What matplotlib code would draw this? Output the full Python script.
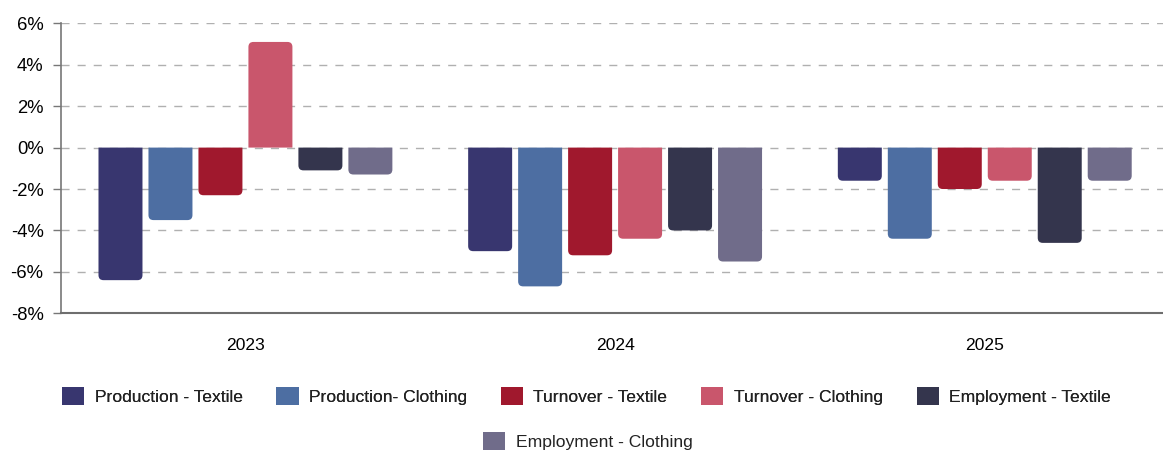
import numpy as np
import matplotlib
matplotlib.use("Agg")
import matplotlib.pyplot as plt
from matplotlib.patches import PathPatch, Patch
from matplotlib.path import Path

plt.rcParams['font.family'] = ['Liberation Sans', 'DejaVu Sans']
plt.rcParams['text.color'] = '#222222'

# data
years = ['2023', '2024', '2025']
series_names = ['Production - Textile', 'Production- Clothing', 'Turnover - Textile',
                'Turnover - Clothing', 'Employment - Textile', 'Employment - Clothing']
prod_textile = [-6.4, -5.0, -1.6]
prod_clothing = [-3.5, -6.7, -4.4]
turn_textile = [-2.3, -5.2, -2.0]
turn_clothing = [5.1, -4.4, -1.6]
empl_textile = [-1.1, -4.0, -4.6]
empl_clothing = [-1.3, -5.5, -1.6]
yticks = [-8, -6, -4, -2, 0, 2, 4, 6]

series = [prod_textile, prod_clothing, turn_textile, turn_clothing, empl_textile, empl_clothing]
colors = ['#38366f', '#4d6ea2', '#a0182d', '#c9566c', '#34354d', '#706c8a']

W, H = 1163, 450
fig = plt.figure(figsize=(W / 100, H / 100), dpi=100)
ax = fig.add_axes([60.6 / W, 1 - 313.3 / H, 1109 / W, 290 / H])

x = np.arange(len(years))
step = 0.1352
width = 0.119

ax.set_xlim(-0.5, 2.5)
ax.set_ylim(-8, 6)

# corner radius of about 5 px, in data units
rx = 5 / 369.75
ry = 5 * 14 / 290


def rounded_bar(bx, base, bw, top):
    # rectangle from base (zero) to top, rounded only at the far end
    r = ry if top > base else -ry
    verts = [(bx, base), (bx, top - r), (bx, top), (bx + rx, top),
             (bx + bw - rx, top), (bx + bw, top), (bx + bw, top - r),
             (bx + bw, base), (bx, base)]
    codes = [Path.MOVETO, Path.LINETO, Path.CURVE3, Path.CURVE3,
             Path.LINETO, Path.CURVE3, Path.CURVE3, Path.LINETO, Path.CLOSEPOLY]
    return Path(verts, codes)


for i, (vals, c) in enumerate(zip(series, colors)):
    bars = ax.bar(x + (i - 2.5) * step, vals, width, color=c, zorder=2)
    for b in bars:
        b.set_visible(False)
        p = rounded_bar(b.get_x(), b.get_y(), b.get_width(), b.get_y() + b.get_height())
        ax.add_patch(PathPatch(p, fc=c, ec='none', zorder=2))

ax.set_yticks(yticks)
ax.set_yticklabels([f"{v}%" for v in yticks], fontsize=13.3)
ax.set_xticks(x)
ax.set_xticklabels(years, fontsize=12.6)
ax.tick_params(axis='x', length=0, pad=18)
ax.tick_params(axis='y', length=5.8, width=1, color='#777777', pad=6.5)

ax.grid(axis='y', color='#b0b0b0', linestyle=(0, (5.8, 5.8)), linewidth=1, zorder=0)
ax.set_axisbelow(True)

for s in ['top', 'right']:
    ax.spines[s].set_visible(False)
ax.spines['left'].set_color('#777777')
ax.spines['left'].set_linewidth(1.2)
ax.spines['bottom'].set_color('#6e6e6e')
ax.spines['bottom'].set_linewidth(1.5)

handles = [Patch(facecolor=c, edgecolor='none', label=n) for c, n in zip(colors, series_names)]
leg_kw = dict(loc='center', frameon=False, fontsize=12.6, handlelength=1.26,
              handleheight=1.26, handletextpad=0.6, columnspacing=1.93, borderpad=0)
leg1 = fig.legend(handles=handles[:5], ncol=5, bbox_to_anchor=(586.5 / W, 1 - 396 / H), **leg_kw)
fig.add_artist(leg1)
fig.legend(handles=handles[5:], ncol=1, bbox_to_anchor=(588 / W, 1 - 441 / H), **leg_kw)

fig.savefig('out.png', dpi=100)
